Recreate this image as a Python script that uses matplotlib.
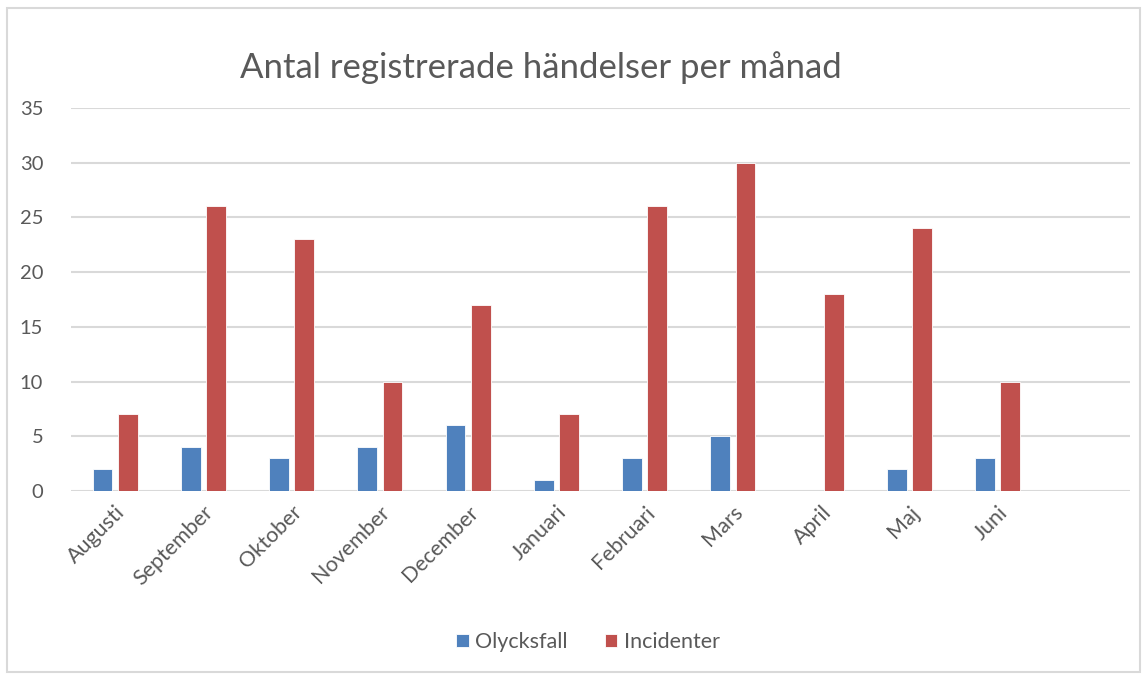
"""Antal registrerade händelser per månad - grouped bar chart."""
import matplotlib

matplotlib.use("Agg")
import matplotlib.pyplot as plt
import numpy as np
from matplotlib.patches import Rectangle

months = ["Augusti", "September", "Oktober", "November", "December", "Januari",
          "Februari", "Mars", "April", "Maj", "Juni", ""]
olycksfall = [2, 4, 3, 4, 6, 1, 3, 5, 0, 2, 3, 0]
incidenter = [7, 26, 23, 10, 17, 7, 26, 30, 18, 24, 10, 0]

BLUE = "#4F81BD"
RED = "#C0504D"
TEXT = "#595959"
GRID = "#D9D9D9"

plt.rcParams["font.family"] = ["Lato", "DejaVu Sans"]

fig = plt.figure(figsize=(11.46, 6.76), dpi=100)
fig.patches.append(Rectangle((7 / 1146, 4 / 676), 1133 / 1146, 664 / 676,
                             transform=fig.transFigure, fill=False,
                             edgecolor=GRID, linewidth=1.5))

ax = fig.add_axes([71 / 1146, 1 - 491 / 676, 1059 / 1146, 383 / 676])
x = np.arange(len(months))
w = 0.225
off = 0.143
ax.bar(x - off, olycksfall, w, color=BLUE, edgecolor="white", linewidth=0.6,
       label="Olycksfall", zorder=3)
ax.bar(x + off, incidenter, w, color=RED, edgecolor="white", linewidth=0.6,
       label="Incidenter", zorder=3)

ax.set_xlim(-0.5, len(months) - 0.5)
ax.set_ylim(0, 35)
ax.set_yticks(range(0, 36, 5))
ax.yaxis.grid(True, color=GRID, linewidth=1.5, zorder=0)
ax.set_axisbelow(True)
for s in ax.spines.values():
    s.set_visible(False)
ax.tick_params(axis="both", length=0, colors=TEXT)
ax.tick_params(axis="y", pad=20, labelsize=14.5)
ax.set_xticks(x)
ax.set_xticklabels(months, rotation=45, ha="right", rotation_mode="anchor")
ax.tick_params(axis="x", pad=8, labelsize=15.5)

fig.text(541 / 1146, 1 - 68 / 676, "Antal registrerade händelser per månad",
         ha="center", va="center", fontsize=25, color=TEXT)

fig.legend(loc="center", bbox_to_anchor=(588 / 1146, 1 - 642 / 676), ncol=2,
           frameon=False, fontsize=15.5, labelcolor=TEXT, handlelength=0.6,
           handleheight=0.6, columnspacing=1.7, handletextpad=0.3)

fig.savefig("out.png", dpi=100)
